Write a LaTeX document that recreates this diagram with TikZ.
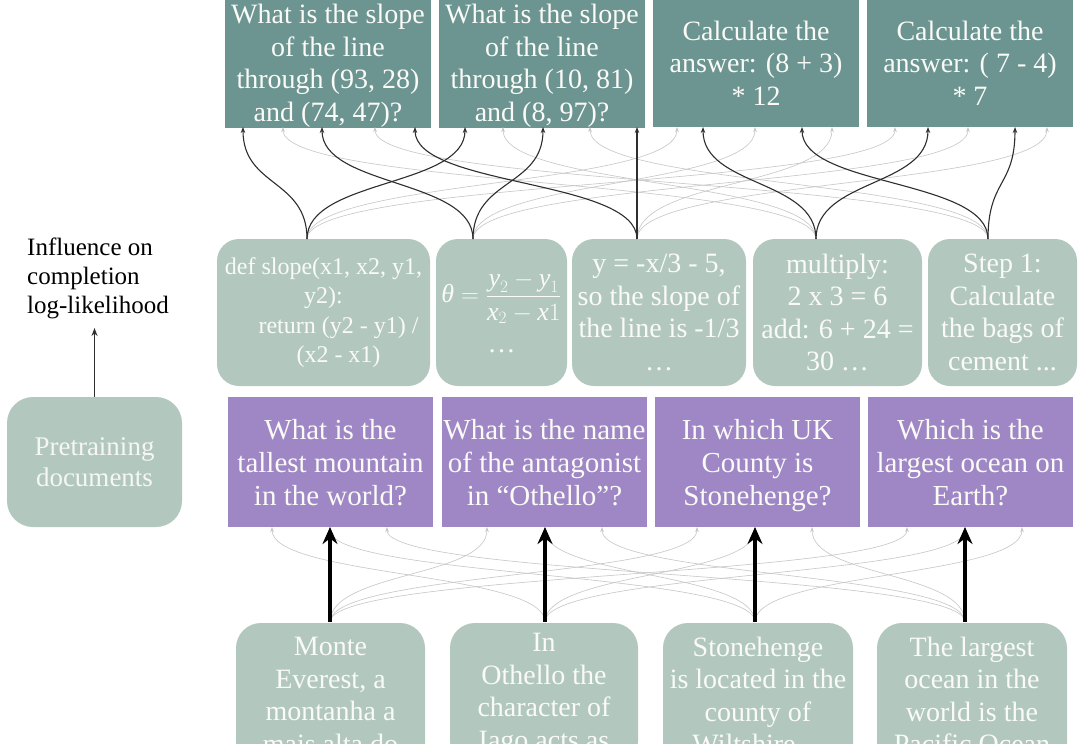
\documentclass[tikz,border=0pt]{standalone}
\usepackage{amsmath}
\usepackage{fontspec}
\setmainfont{Liberation Serif}
\usetikzlibrary{arrows.meta, positioning, calc}
\definecolor{qteal}{HTML}{6C9592}
\definecolor{sage}{HTML}{B2C8BF}
\definecolor{lilac}{HTML}{9F87C5}
\definecolor{boxtxt}{HTML}{FAFAF7}
\definecolor{faint}{HTML}{C6C6C6}
\definecolor{dkgray}{HTML}{2E2E2E}

% struts so that every box keeps its lines at the same height
\newcommand{\topln}{\rule{0pt}{27pt}}
\newcommand{\botln}{\rule[-7pt]{0pt}{7pt}}

\tikzset{
  query/.style={fill=qteal, text=boxtxt, align=center, inner sep=0pt,
    minimum width=206pt, minimum height=129pt, font=\fontsize{28}{32.5}\selectfont,
    execute at end node=\botln},
  fact/.style={fill=lilac, text=boxtxt, align=center, inner sep=0pt,
    minimum width=205pt, minimum height=130pt, font=\fontsize{29}{33}\selectfont,
    execute at end node=\botln},
  doc/.style={fill=sage, text=boxtxt, align=center, inner sep=0pt,
    rounded corners=22pt, font=\fontsize{28}{32.5}\selectfont},
  strong/.style={dkgray, line width=1.1pt, -{Stealth[length=6pt, width=4.5pt]}},
  weak/.style={faint, line width=0.6pt, -{Stealth[length=5pt, width=3.5pt]}},
  heavy/.style={black, line width=4pt, -{Stealth[length=17pt, width=15pt]}},
  sway/.style={out=90, in=-90, distance=#1},
  sway/.default=60pt
}

\begin{document}
\begin{tikzpicture}[x=1pt, y=-1pt]

% Background
\useasboundingbox (0,0) rectangle (1080,744);
\clip (0,0) rectangle (1080,744);
\fill[white] (0,0) rectangle (1080,744);

% Reasoning queries (top row)
\node[query] (q1) at (328,62.5) {\topln What is the slope\\of the line\\through (93, 28)\\and (74, 47)?};
\node[query] (q2) at (542,62.5) {\topln What is the slope\\of the line\\through (10, 81)\\and (8, 97)?};
\node[query] (q3) at (756,62.5) {\topln Calculate the\\answer: (8 + 3)\\* 12};
\node[query] (q4) at (970,62.5) {\topln Calculate the\\answer: ( 7 - 4)\\* 7};

% Procedural documents (middle row)
\node[doc, minimum width=213pt, minimum height=147pt, font=\fontsize{24}{29.5}\selectfont] (A) at (323.5,312.5)
  {def slope(x1, x2, y1,\\y2):\\\hspace{30pt}return (y2 - y1) /\\\hspace{30pt}(x2 - x1)};
\node[doc, minimum width=131pt, minimum height=147pt, font=\fontsize{26}{30}\selectfont] (B) at (501.5,312.5)
  {$\textit{θ}=\dfrac{\textit{y}_2-\textit{y}_1}{\textit{x}_2-\textit{x}1}$\\[20pt]\fontsize{28}{32.5}\selectfont …};
\node[doc, minimum width=174pt, minimum height=147pt] (C) at (659,312.5)
  {y = -x/3 - 5,\\so the slope of\\the line is -1/3\\…};
\node[doc, minimum width=169pt, minimum height=147pt] (D) at (837.5,312.5)
  {multiply:\\2 x 3 = 6\\add: 6 + 24 =\\30 …};
\node[doc, minimum width=149pt, minimum height=147pt] (E) at (1002.5,312.5)
  {Step 1:\\Calculate\\the bags of\\cement ...};

% Factual queries (third row)
\node[fact] (f1) at (330.5,462) {\topln What is the\\tallest mountain\\in the world?};
\node[fact] (f2) at (544.5,462) {\topln What is the name\\of the antagonist\\in “Othello”?};
\node[fact] (f3) at (757.5,462) {\topln In which UK\\County is\\Stonehenge?};
\node[fact] (f4) at (970.5,462) {\topln Which is the\\largest ocean on\\Earth?};

% Factual documents (bottom row, cut off)
\node[doc, rounded corners=25pt, minimum width=189pt, minimum height=145pt] (d1) at (330.5,695.5)
  {Monte\\Everest, a\\montanha a\\mais alta do};
\node[doc, rounded corners=25pt, minimum width=188pt, minimum height=143pt] (d2) at (544,694.5)
  {In\\Othello the\\character of\\Iago acts as};
\node[doc, rounded corners=25pt, minimum width=190pt, minimum height=145pt] (d3) at (758,695.5)
  {Stonehenge\\is located in the\\county of\\Wiltshire ...};
\node[doc, rounded corners=25pt, minimum width=190pt, minimum height=145pt] (d4) at (972,695.5)
  {The largest\\ocean in the\\world is the\\Pacific Ocean};

% Legend
\node[doc, rounded corners=26pt, minimum width=175pt, minimum height=130pt,
  text=boxtxt!94!sage, font=\fontsize{27}{31}\selectfont] (pre) at (94.5,462) {Pretraining\\documents};
\node[anchor=north west, align=left, inner sep=0pt, font=\fontsize{25}{29}\selectfont] (infl) at (27,238)
  {Influence on\\completion\\log-likelihood};
\coordinate (infl-tip) at (94.5,328);
\draw[strong, line width=1.5pt, -{Stealth[length=8pt, width=6pt]}] (pre) -- (infl-tip);

% Ports
\foreach \n/\x in {A/307, B/473, C/637, D/816, E/988}
  \coordinate (\n-o) at (\x,239);
\foreach \n/\xs in {q1/{243,283,322,375,415}, q2/{465,503,543,590,637},
                    q3/{677,703,755,802,832}, q4/{895,928,968,1015,1047}}
  \foreach \x [count=\i] in \xs
    \coordinate (\n-\i) at (\x,127);
\foreach \n/\x in {1/330, 2/545, 3/755, 4/965} {
  \coordinate (d\n-o) at (\x,622);
  \coordinate (f\n-1) at (\x-58,527);
  \coordinate (f\n-2) at (\x,527);
  \coordinate (f\n-3) at (\x+57,527);
}

% Weak influences
\foreach \s/\t in {D/q1-2, E/q1-4, D/q2-2, E/q2-4, A/q3-1, B/q3-3, C/q3-5, A/q4-1, B/q4-3, C/q4-5}
  \draw[weak] (\s-o) to[sway] (\t);
\foreach \s/\t in {d2/f1-1, d3/f1-2, d4/f1-3, d1/f2-1, d3/f2-2, d4/f2-3,
                   d1/f3-1, d2/f3-2, d4/f3-3, d1/f4-1, d2/f4-2, d3/f4-3}
  \draw[weak] (\s-o) to[sway=50pt] (\t);

% Strong influences
\foreach \s/\t in {A/q1-1, A/q2-1, B/q1-3, B/q2-3, C/q1-5, C/q2-5, D/q3-2, D/q4-2, E/q3-4, E/q4-4}
  \draw[strong] (\s-o) to[sway] (\t);
\foreach \i in {1,...,4}
  \draw[heavy] (d\i-o) -- (f\i-2);

\end{tikzpicture}
\end{document}
